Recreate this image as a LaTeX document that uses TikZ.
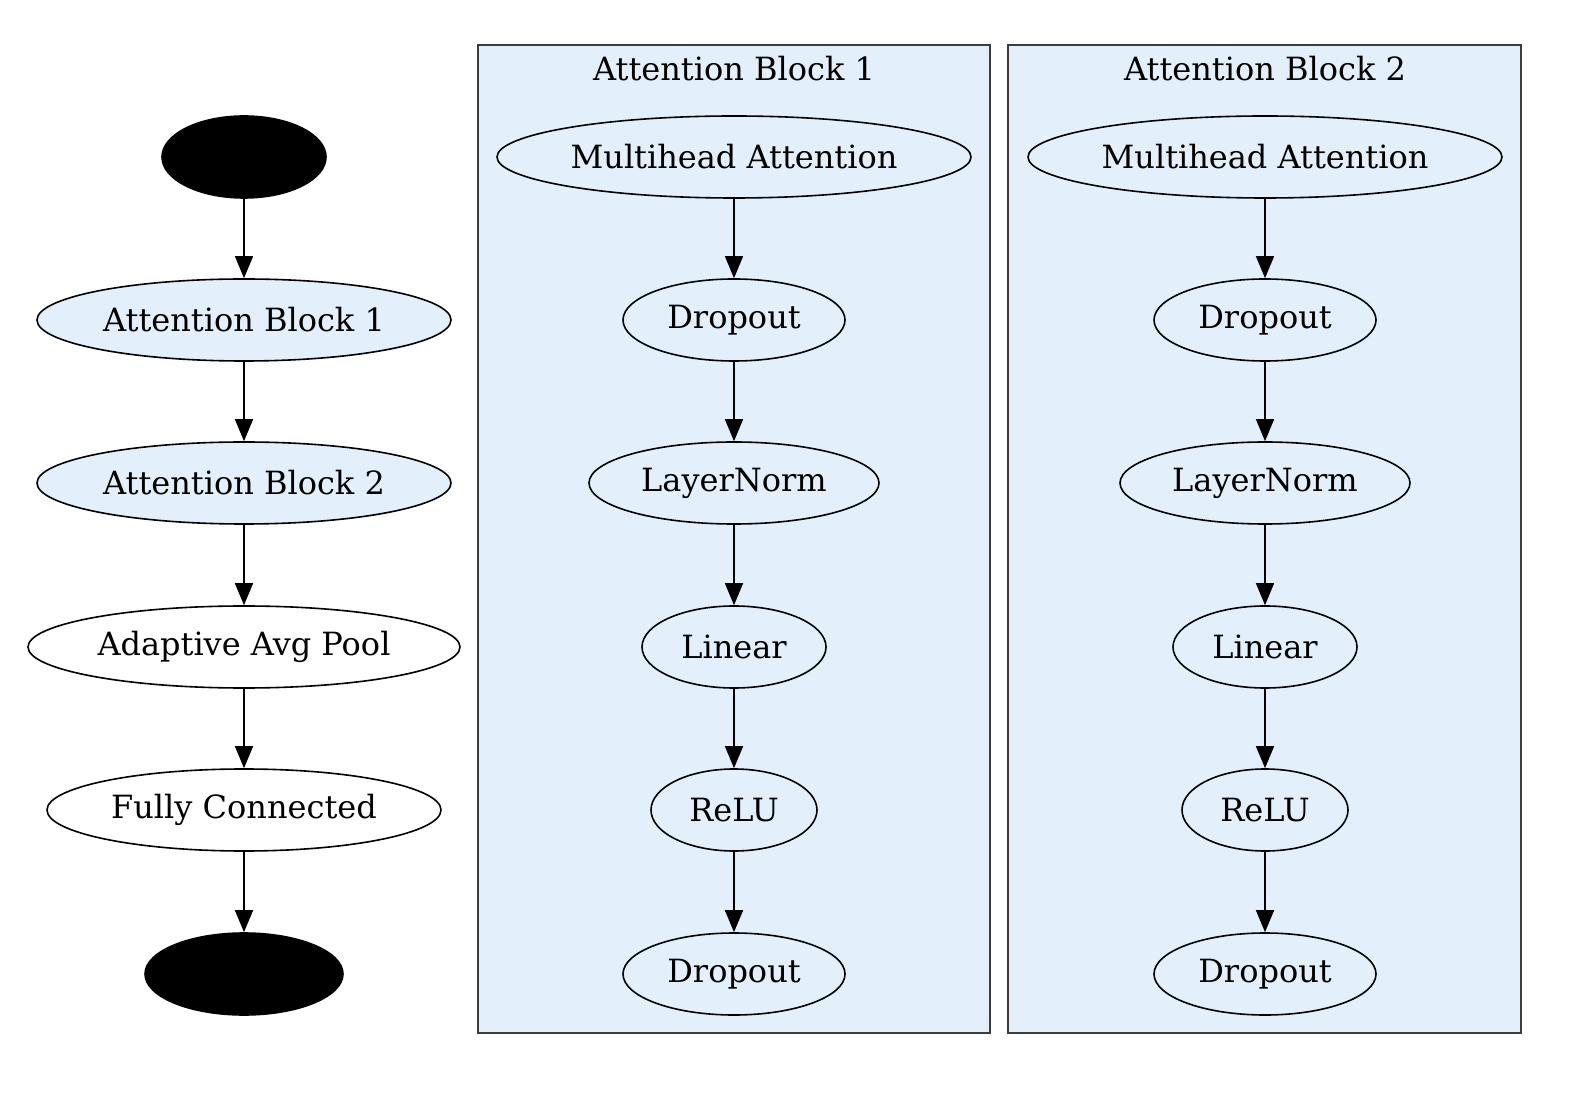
\documentclass[tikz,border=0pt]{standalone}
\usepackage{fontspec}
\setmainfont{DejaVu Serif}
\usetikzlibrary{shapes.geometric,arrows.meta}
\definecolor{blk}{RGB}{227,240,252}
\definecolor{clborder}{RGB}{60,60,60}
\tikzset{
  nd/.style={ellipse, draw=black, line width=0.8pt, inner sep=0pt, minimum height=41pt, font=\fontsize{16}{19}\selectfont},
  bnd/.style={nd, fill=blk},
  wnd/.style={nd, fill=white},
  dark/.style={nd, fill=black},
  arr/.style={line width=0.75pt, -{Triangle[length=11pt,width=9pt]}},
  cluster/.style={fill=blk, draw=clborder, line width=1pt},
  ctitle/.style={font=\fontsize{16}{19}\selectfont}
}
\begin{document}
\begin{tikzpicture}[x=0.5pt,y=-0.5pt]
\useasboundingbox (0,0) rectangle (1589,1095);
% clusters
\draw[cluster] (478,45) rectangle (990,1033);
\draw[cluster] (1008,45) rectangle (1521,1033);
\node[ctitle] (t1) at (734,69) {Attention Block 1};
\node[ctitle] (t2) at (1265,69) {Attention Block 2};
% main column
\node[dark, minimum width=82pt] (in) at (244,157) {};
\node[bnd, minimum width=207pt] (ab1) at (244,320) {Attention Block 1};
\node[bnd, minimum width=207pt] (ab2) at (244,483) {Attention Block 2};
\node[wnd, minimum width=216pt] (pool) at (244,647) {Adaptive Avg Pool};
\node[wnd, minimum width=197pt] (fc) at (244,810) {Fully Connected};
\node[dark, minimum width=99pt] (out) at (244,974) {};
\draw[arr] (in) -- (ab1);
\draw[arr] (ab1) -- (ab2);
\draw[arr] (ab2) -- (pool);
\draw[arr] (pool) -- (fc);
\draw[arr] (fc) -- (out);
% block 1
\node[bnd, minimum width=237pt] (a1) at (734,157) {Multihead Attention};
\node[bnd, minimum width=111pt] (a2) at (734,320) {Dropout};
\node[bnd, minimum width=145pt] (a3) at (734,483) {LayerNorm};
\node[bnd, minimum width=92pt] (a4) at (734,647) {Linear};
\node[bnd, minimum width=83pt] (a5) at (734,810) {ReLU};
\node[bnd, minimum width=111pt] (a6) at (734,974) {Dropout};
\draw[arr] (a1) -- (a2);
\draw[arr] (a2) -- (a3);
\draw[arr] (a3) -- (a4);
\draw[arr] (a4) -- (a5);
\draw[arr] (a5) -- (a6);
% block 2
\node[bnd, minimum width=237pt] (b1) at (1265,157) {Multihead Attention};
\node[bnd, minimum width=111pt] (b2) at (1265,320) {Dropout};
\node[bnd, minimum width=145pt] (b3) at (1265,483) {LayerNorm};
\node[bnd, minimum width=92pt] (b4) at (1265,647) {Linear};
\node[bnd, minimum width=83pt] (b5) at (1265,810) {ReLU};
\node[bnd, minimum width=111pt] (b6) at (1265,974) {Dropout};
\draw[arr] (b1) -- (b2);
\draw[arr] (b2) -- (b3);
\draw[arr] (b3) -- (b4);
\draw[arr] (b4) -- (b5);
\draw[arr] (b5) -- (b6);
\end{tikzpicture}
\end{document}
